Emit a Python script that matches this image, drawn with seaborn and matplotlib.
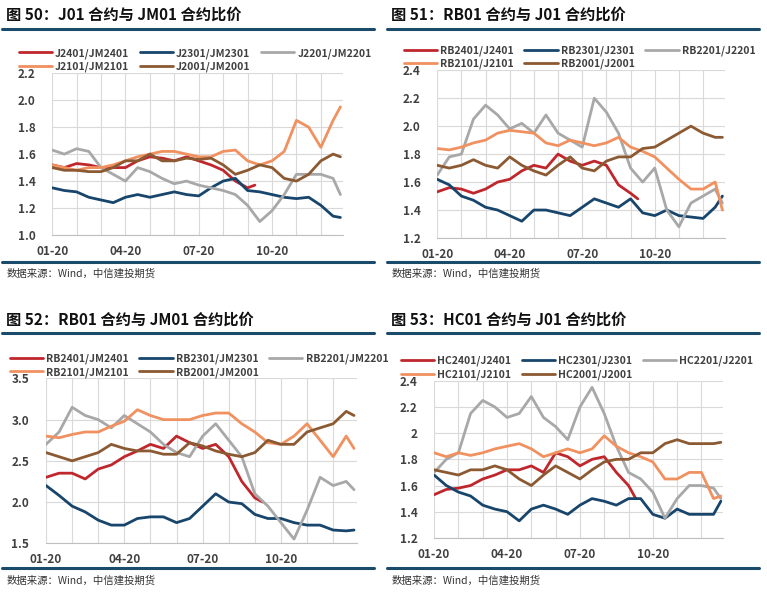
import numpy as np
import pandas as pd
import matplotlib
matplotlib.use("Agg")
import matplotlib.pyplot as plt
import seaborn as sns

sns.set_style("white")
plt.rcParams['font.family'] = ['Noto Sans CJK SC', 'DejaVu Sans']

MONTHS = [i * 0.5 for i in range(24)] + [11.8]
MONTHS_RED = [i * 0.5 for i in range(17)] + [8.3]
TICK_POS = [0, 3, 6, 9]
TICK_LABELS = ["01-20", "04-20", "07-20", "10-20"]

# Panel 50: J/JM
p50_names = ["J2401/JM2401", "J2301/JM2301", "J2201/JM2201", "J2101/JM2101", "J2001/JM2001"]
p50_red = [1.52, 1.50, 1.53, 1.52, 1.50, 1.50, 1.50, 1.55, 1.58, 1.57, 1.55, 1.58, 1.55, 1.52, 1.48, 1.40, 1.35, 1.37]
p50_blue = [1.35, 1.33, 1.32, 1.28, 1.26, 1.24, 1.28, 1.30, 1.28, 1.30, 1.32, 1.30, 1.29, 1.35, 1.40, 1.42, 1.33, 1.32, 1.30, 1.28, 1.27, 1.28, 1.22, 1.14, 1.13]
p50_gray = [1.63, 1.60, 1.64, 1.62, 1.50, 1.45, 1.40, 1.50, 1.47, 1.42, 1.38, 1.40, 1.37, 1.35, 1.33, 1.30, 1.22, 1.10, 1.18, 1.30, 1.45, 1.45, 1.45, 1.42, 1.30]
p50_orange = [1.52, 1.50, 1.48, 1.50, 1.50, 1.52, 1.55, 1.58, 1.60, 1.62, 1.62, 1.60, 1.58, 1.58, 1.62, 1.63, 1.55, 1.52, 1.55, 1.62, 1.85, 1.80, 1.65, 1.85, 1.95]
p50_brown = [1.50, 1.48, 1.48, 1.47, 1.47, 1.50, 1.55, 1.55, 1.60, 1.55, 1.55, 1.57, 1.56, 1.57, 1.52, 1.45, 1.48, 1.52, 1.50, 1.42, 1.40, 1.45, 1.55, 1.60, 1.58]

# Panel 51: RB/J
p51_names = ["RB2401/J2401", "RB2301/J2301", "RB2201/J2201", "RB2101/J2101", "RB2001/J2001"]
p51_red = [1.53, 1.56, 1.55, 1.52, 1.55, 1.60, 1.62, 1.68, 1.72, 1.70, 1.80, 1.75, 1.72, 1.75, 1.72, 1.58, 1.52, 1.48]
p51_blue = [1.62, 1.58, 1.50, 1.47, 1.42, 1.40, 1.36, 1.32, 1.40, 1.40, 1.38, 1.36, 1.42, 1.48, 1.45, 1.42, 1.48, 1.38, 1.36, 1.40, 1.36, 1.35, 1.34, 1.42, 1.50]
p51_gray = [1.65, 1.78, 1.80, 2.05, 2.15, 2.08, 1.98, 2.02, 1.95, 2.08, 1.95, 1.90, 1.85, 2.20, 2.10, 1.95, 1.70, 1.60, 1.70, 1.40, 1.28, 1.45, 1.50, 1.55, 1.45]
p51_orange = [1.84, 1.83, 1.85, 1.88, 1.90, 1.95, 1.97, 1.96, 1.95, 1.88, 1.86, 1.90, 1.88, 1.86, 1.88, 1.92, 1.85, 1.82, 1.78, 1.70, 1.62, 1.55, 1.55, 1.60, 1.40]
p51_brown = [1.72, 1.70, 1.72, 1.76, 1.72, 1.70, 1.78, 1.72, 1.68, 1.65, 1.72, 1.78, 1.70, 1.68, 1.75, 1.78, 1.78, 1.84, 1.85, 1.90, 1.95, 2.00, 1.95, 1.92, 1.92]

# Panel 52: RB/JM
p52_names = ["RB2401/JM2401", "RB2301/JM2301", "RB2201/JM2201", "RB2101/JM2101", "RB2001/JM2001"]
p52_red = [2.30, 2.35, 2.35, 2.28, 2.40, 2.45, 2.55, 2.62, 2.70, 2.65, 2.80, 2.72, 2.65, 2.70, 2.55, 2.25, 2.05, 2.00]
p52_blue = [2.20, 2.08, 1.95, 1.88, 1.78, 1.72, 1.72, 1.80, 1.82, 1.82, 1.75, 1.80, 1.95, 2.10, 2.00, 1.98, 1.85, 1.80, 1.80, 1.75, 1.72, 1.72, 1.66, 1.65, 1.66]
p52_gray = [2.70, 2.85, 3.15, 3.05, 3.00, 2.90, 3.05, 2.95, 2.85, 2.70, 2.60, 2.55, 2.80, 2.95, 2.75, 2.55, 2.10, 1.95, 1.75, 1.55, 1.90, 2.30, 2.20, 2.25, 2.15]
p52_orange = [2.80, 2.78, 2.82, 2.85, 2.85, 2.92, 2.98, 3.12, 3.05, 3.00, 3.00, 3.00, 3.05, 3.08, 3.08, 2.95, 2.85, 2.72, 2.70, 2.80, 2.95, 2.75, 2.55, 2.80, 2.65]
p52_brown = [2.60, 2.55, 2.50, 2.55, 2.60, 2.70, 2.65, 2.62, 2.62, 2.58, 2.58, 2.72, 2.68, 2.62, 2.58, 2.55, 2.60, 2.75, 2.70, 2.70, 2.85, 2.90, 2.95, 3.10, 3.05]

# Panel 53: HC/J
p53_names = ["HC2401/J2401", "HC2301/J2301", "HC2201/J2201", "HC2101/J2101", "HC2001/J2001"]
p53_red = [1.53, 1.57, 1.58, 1.60, 1.65, 1.68, 1.72, 1.72, 1.75, 1.70, 1.85, 1.82, 1.75, 1.80, 1.82, 1.70, 1.60, 1.50]
p53_blue = [1.68, 1.60, 1.55, 1.52, 1.45, 1.42, 1.40, 1.33, 1.42, 1.45, 1.42, 1.38, 1.45, 1.50, 1.48, 1.45, 1.50, 1.50, 1.38, 1.35, 1.42, 1.38, 1.38, 1.38, 1.48]
p53_gray = [1.70, 1.80, 1.85, 2.15, 2.25, 2.20, 2.12, 2.15, 2.28, 2.12, 2.05, 1.95, 2.20, 2.35, 2.15, 1.90, 1.70, 1.65, 1.55, 1.35, 1.50, 1.60, 1.60, 1.58, 1.50]
p53_orange = [1.85, 1.82, 1.85, 1.83, 1.85, 1.88, 1.90, 1.92, 1.88, 1.82, 1.85, 1.88, 1.85, 1.88, 1.98, 1.90, 1.85, 1.82, 1.78, 1.65, 1.65, 1.70, 1.70, 1.50, 1.52]
p53_brown = [1.72, 1.70, 1.68, 1.72, 1.72, 1.75, 1.72, 1.65, 1.60, 1.68, 1.75, 1.70, 1.65, 1.72, 1.78, 1.80, 1.80, 1.85, 1.85, 1.92, 1.95, 1.92, 1.92, 1.92, 1.93]

COLORS = ["#C0272D", "#17456B", "#A8A8A8", "#F0915F", "#8C5A32"]
NAVY = "#1B4B6B"

panels = [
    dict(title="图 50：J01 合约与 JM01 合约比价", names=p50_names,
         data=[p50_red, p50_blue, p50_gray, p50_orange, p50_brown],
         ylim=(1.0, 2.2), yt=[1.0, 1.2, 1.4, 1.6, 1.8, 2.0, 2.2], fmt="{:.1f}",
         rect=[0.068, 0.605, 0.379, 0.272], tx=0.008, ty=0.975, line=0.952, src=0.540, bl=0.560),
    dict(title="图 51：RB01 合约与 J01 合约比价", names=p51_names,
         data=[p51_red, p51_blue, p51_gray, p51_orange, p51_brown],
         ylim=(1.2, 2.4), yt=[1.2, 1.4, 1.6, 1.8, 2.0, 2.2, 2.4], fmt="{:.1f}",
         rect=[0.570, 0.600, 0.375, 0.282], tx=0.510, ty=0.975, line=0.952, src=0.540, bl=0.560),
    dict(title="图 52：RB01 合约与 JM01 合约比价", names=p52_names,
         data=[p52_red, p52_blue, p52_gray, p52_orange, p52_brown],
         ylim=(1.5, 3.5), yt=[1.5, 2.0, 2.5, 3.0, 3.5], fmt="{:.1f}",
         rect=[0.060, 0.087, 0.405, 0.277], tx=0.008, ty=0.462, line=0.440, src=0.024, bl=0.046),
    dict(title="图 53：HC01 合约与 J01 合约比价", names=p53_names,
         data=[p53_red, p53_blue, p53_gray, p53_orange, p53_brown],
         ylim=(1.2, 2.4), yt=[1.2, 1.4, 1.6, 1.8, 2.0, 2.2, 2.4], fmt="{:g}",
         rect=[0.566, 0.096, 0.377, 0.264], tx=0.510, ty=0.462, line=0.440, src=0.024, bl=0.046),
]

fig = plt.figure(figsize=(7.67, 5.95), dpi=100)

for p in panels:
    ax = fig.add_axes(p["rect"])
    for i, (name, vals) in enumerate(zip(p["names"], p["data"])):
        xs = MONTHS_RED if i == 0 else MONTHS
        df = pd.DataFrame({"x": xs, "y": vals})
        sns.lineplot(data=df, x="x", y="y", ax=ax, color=COLORS[i], lw=2.0, label=name)
    ax.set_xlim(0, 11.9)
    ax.set_ylim(*p["ylim"])
    ax.set_xticks(range(0, 12))
    ax.set_xticklabels([TICK_LABELS[TICK_POS.index(m)] if m in TICK_POS else "" for m in range(12)])
    ax.set_yticks(p["yt"])
    ax.set_yticklabels([p["fmt"].format(v) for v in p["yt"]])
    ax.grid(True, color="#D9D9D9", lw=0.8)
    for s in ["top", "right", "left"]:
        ax.spines[s].set_visible(False)
    ax.spines["bottom"].set_color("#BFBFBF")
    ax.tick_params(axis="x", length=0, labelsize=8.5, labelcolor="#404040", pad=7)
    ax.tick_params(axis="y", length=0, labelsize=8.5, labelcolor="#404040", pad=12)
    for t in ax.get_xticklabels() + ax.get_yticklabels():
        t.set_fontweight("bold")
    ax.set_xlabel("")
    ax.set_ylabel("")
    h, l = ax.get_legend_handles_labels()
    order = [0, 3, 1, 4, 2]
    ax.legend([h[k] for k in order], [l[k] for k in order], ncol=3, loc="lower left",
              bbox_to_anchor=(-0.13, 0.98), frameon=False,
              prop=dict(size=7.5, weight="bold"), labelcolor="#404040",
              handlelength=3.2, columnspacing=1.0, handletextpad=0.3, borderaxespad=0.0,
              labelspacing=0.3)
    fig.text(p["tx"], p["ty"], p["title"], fontsize=11, fontweight="bold", va="center", color="#111111")
    x0 = p["tx"] - 0.005
    fig.add_artist(plt.Line2D([x0, x0 + 0.485], [p["line"], p["line"]], color=NAVY, lw=2.2))
    fig.add_artist(plt.Line2D([x0, x0 + 0.485], [p["bl"], p["bl"]], color=NAVY, lw=2.2))
    fig.text(p["tx"], p["src"], "数据来源：Wind，中信建投期货", fontsize=7.5, style="italic",
             va="center", color="#333333")

fig.savefig("out.png", dpi=100, facecolor="white")
